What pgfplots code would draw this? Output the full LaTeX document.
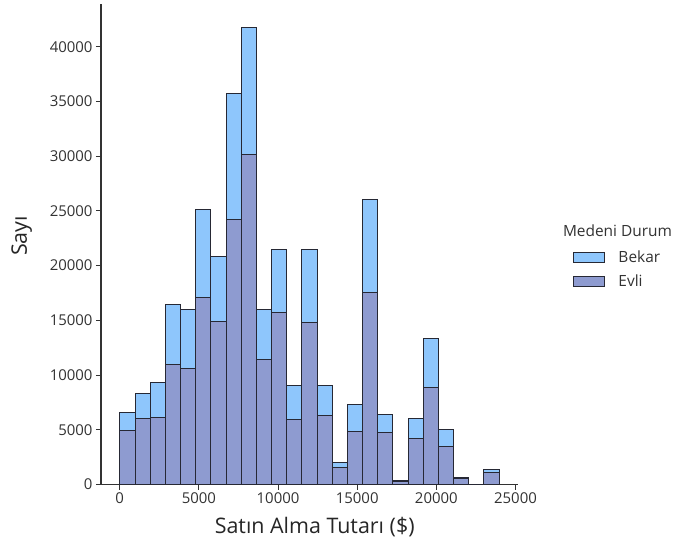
\documentclass[border=0pt]{standalone}
\usepackage{pgfplots}
\usepackage{pgfplotstable}
\pgfplotsset{compat=1.18}
\usepackage{fontspec}
\setmainfont{Open Sans}
\definecolor{bekar}{RGB}{142,198,252}
\definecolor{evli}{RGB}{142,155,208}
\definecolor{edge}{RGB}{38,40,52}
\definecolor{spine}{RGB}{50,50,50}
\definecolor{txt}{RGB}{50,50,50}

% bin left edges (width 958), last row closes the final bin
\pgfplotstableread{
x y
12 6560
970 8270
1928 9280
2886 16410
3844 15950
4802 25090
5760 20820
6718 35760
7676 41760
8634 15950
9592 21440
10550 9000
11508 21500
12466 9000
13424 1990
14382 7270
15340 26070
16298 6420
17256 350
18214 6020
19172 13360
20130 4980
21088 620
22046 0
23004 1330
23962 0
}\bekardata
\pgfplotstableread{
x y
12 4890
970 5990
1928 6140
2886 10990
3844 10590
4802 17080
5760 14880
6718 24240
7676 30120
8634 11440
9592 15740
10550 5960
11508 14830
12466 6290
13424 1570
14382 4830
15340 17530
16298 4740
17256 250
18214 4160
19172 8880
20130 3460
21088 550
22046 0
23004 1110
23962 0
}\evlidata

\begin{document}
\begin{tikzpicture}
\useasboundingbox (0,0) rectangle (674bp,544bp);
\begin{axis}[
  at={(101bp,59.5bp)}, anchor=south west,
  scale only axis, width=417bp, height=480.5bp,
  xmin=-1185, xmax=25158, ymin=0, ymax=43900,
  axis x line*=bottom, axis y line*=left,
  axis line style={spine, line width=1.1bp},
  xtick={0,5000,...,25000}, ytick={0,5000,...,40000},
  tick align=outside, major tick length=5bp,
  tick style={spine, line width=1bp},
  /pgf/number format/1000 sep={},
  /pgf/number format/assume math mode=true,
  scaled ticks=false,
  tick label style={font=\fontsize{15}{18}\selectfont, text=txt},
  xlabel={Satın Alma Tutarı (\$)},
  ylabel={Sayı},
  every axis x label/.style={at={(axis description cs:0.5125,-0.1016)}, anchor=base, font=\fontsize{21.5}{25}\selectfont, text=black!85},
  every axis y label/.style={at={(axis description cs:-0.178,0.5172)}, anchor=base, rotate=90, font=\fontsize{21.5}{25}\selectfont, text=black!85},
  legend style={at={(axis description cs:1.1326,0.447)}, anchor=west, draw=none, fill=none, inner sep=0pt,
    font=\fontsize{15.5}{18}\selectfont, text=txt, row sep=11bp, column sep=13bp,
    nodes={inner sep=0pt}},
  legend cell align=left,
]
\addplot[ybar interval, fill=bekar, draw=edge, line width=1bp, area legend,
  legend image code/.code={\draw[fill=bekar, draw=edge, line width=1bp] (0bp,-5bp) rectangle (31bp,5bp);}]
  table[x=x, y=y] {\bekardata};
\addlegendentry{Bekar}
\addplot[ybar interval, fill=evli, draw=edge, line width=1bp, area legend,
  legend image code/.code={\draw[fill=evli, draw=edge, line width=1bp] (0bp,-5bp) rectangle (31bp,5bp);}]
  table[x=x, y=y] {\evlidata};
\addlegendentry{Evli}
\end{axis}
\node[anchor=base, font=\fontsize{15.5}{18}\selectfont, text=txt] at (617.5bp,307.3bp) {Medeni Durum};
\end{tikzpicture}
\end{document}
